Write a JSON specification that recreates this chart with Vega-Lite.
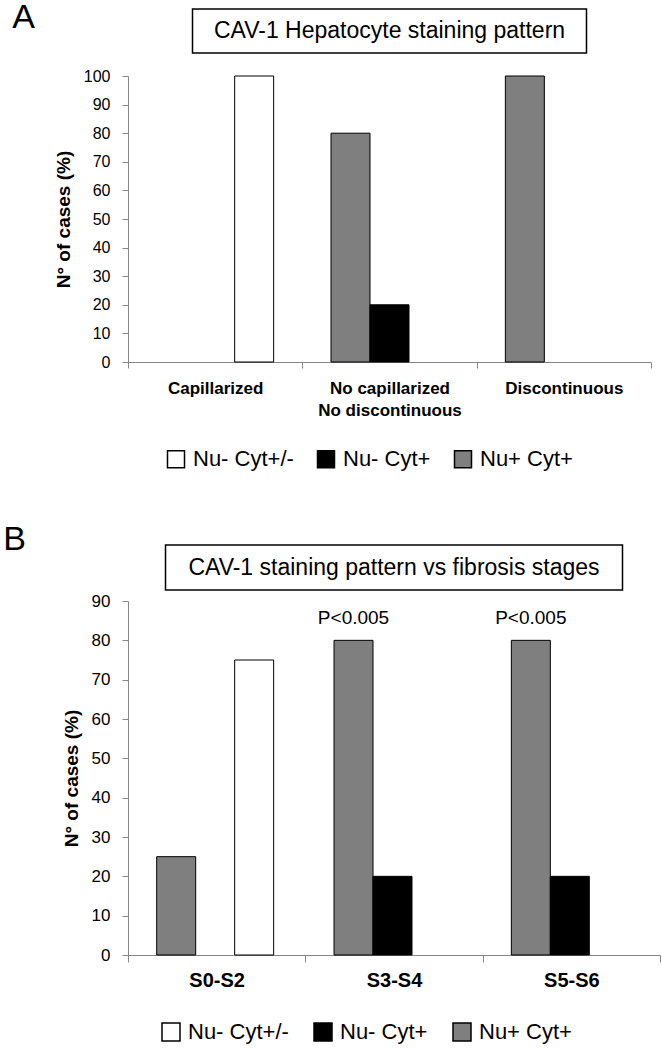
{
  "$schema": "https://vega.github.io/schema/vega-lite/v6.json",
  "padding": {"left": 2, "top": 0, "right": 0, "bottom": 0},
  "background": "white",
  "config": {
    "font": "Liberation Sans",
    "view": {"stroke": null},
    "axis": {"grid": false, "domainColor": "#868686", "tickColor": "#868686", "labelColor": "black", "titleColor": "black", "labelFont": "Liberation Sans", "titleFont": "Liberation Sans"},
    "title": {"font": "Liberation Sans", "color": "black"}
  },
  "datasets": {
    "hep": [
      {"pattern": "Capillarized", "staining": "Nu- Cyt+/-", "pct": 100},
      {"pattern": "No capillarized\nNo discontinuous", "staining": "Nu+ Cyt+", "pct": 80},
      {"pattern": "No capillarized\nNo discontinuous", "staining": "Nu- Cyt+", "pct": 20},
      {"pattern": "Discontinuous", "staining": "Nu+ Cyt+", "pct": 100}
    ],
    "fib": [
      {"stage": "S0-S2", "staining": "Nu+ Cyt+", "pct": 25},
      {"stage": "S0-S2", "staining": "Nu- Cyt+/-", "pct": 75},
      {"stage": "S3-S4", "staining": "Nu+ Cyt+", "pct": 80, "note": "P<0.005"},
      {"stage": "S3-S4", "staining": "Nu- Cyt+", "pct": 20},
      {"stage": "S5-S6", "staining": "Nu+ Cyt+", "pct": 80, "note": "P<0.005"},
      {"stage": "S5-S6", "staining": "Nu- Cyt+", "pct": 20}
    ]
  },
  "resolve": {"scale": {"color": "independent"}, "legend": {"color": "independent"}},
  "spacing": 51,
  "vconcat": [
    {
      "bounds": "flush",
      "center": true,
      "spacing": 23,
      "resolve": {"scale": {"color": "independent"}, "legend": {"color": "independent"}},
      "vconcat": [
        {
          "width": 394,
          "height": 44,
          "view": {"stroke": "black", "strokeWidth": 1.5, "fill": "white"},
          "title": {"text": "A", "orient": "left", "anchor": "end", "angle": 0, "align": "right", "baseline": "middle", "fontSize": 34, "fontWeight": "normal", "offset": 135, "dy": 9},
          "data": {"values": [{"caption": "CAV-1 Hepatocyte staining pattern"}]},
          "mark": {"type": "text", "fontSize": 23, "font": "Liberation Sans", "color": "black"},
          "encoding": {"text": {"field": "caption"}}
        },
        {
          "width": 523,
          "height": 286,
          "data": {"name": "hep"},
          "mark": {"type": "bar", "stroke": "black", "strokeWidth": 1},
          "encoding": {
            "x": {
              "field": "pattern", "type": "nominal",
              "sort": ["Capillarized", "No capillarized\nNo discontinuous", "Discontinuous"],
              "scale": {"paddingInner": 0, "paddingOuter": 0},
              "axis": {"title": null, "labelAngle": 0, "labelFontSize": 17, "labelFontWeight": "bold", "tickBand": "extent", "tickSize": 6, "labelPadding": 20, "labelBaseline": "middle", "labelExpr": "split(datum.label, '\\n')", "labelLineHeight": 22}
            },
            "xOffset": {"field": "staining", "type": "nominal", "scale": {"domain": ["Nu+ Cyt+", "Nu- Cyt+", "Nu- Cyt+/-"], "paddingInner": 0, "paddingOuter": 0.736}},
            "y": {
              "field": "pct", "type": "quantitative",
              "scale": {"domain": [0, 100]},
              "axis": {"title": "N° of cases (%)", "values": [0, 10, 20, 30, 40, 50, 60, 70, 80, 90, 100], "tickSize": 6, "labelPadding": 12, "labelFontSize": 16, "titleFontSize": 19, "titleFontWeight": "bold", "titlePadding": 10}
            },
            "color": {
              "field": "staining", "type": "nominal",
              "scale": {"domain": ["Nu- Cyt+/-", "Nu- Cyt+", "Nu+ Cyt+"], "range": ["#ffffff", "#000000", "#7f7f7f"]},
              "legend": {"title": null, "orient": "none", "legendX": 37, "legendY": 372, "direction": "horizontal", "symbolType": "square", "symbolSize": 289, "symbolStrokeColor": "black", "symbolStrokeWidth": 1.5, "symbolOpacity": 1, "labelFontSize": 22, "labelFont": "Liberation Sans", "labelColor": "black", "labelOffset": 6, "columnPadding": 20}
            }
          }
        }
      ]
    },
    {
      "bounds": "flush",
      "center": true,
      "spacing": 11,
      "resolve": {"scale": {"color": "independent"}, "legend": {"color": "independent"}},
      "vconcat": [
        {
          "width": 457,
          "height": 45,
          "view": {"stroke": "black", "strokeWidth": 1.5, "fill": "white"},
          "title": {"text": "B", "orient": "left", "anchor": "end", "angle": 0, "align": "right", "baseline": "middle", "fontSize": 34, "fontWeight": "normal", "offset": 117, "dy": -5},
          "data": {"values": [{"caption": "CAV-1 staining pattern vs fibrosis stages"}]},
          "mark": {"type": "text", "fontSize": 23, "font": "Liberation Sans", "color": "black"},
          "encoding": {"text": {"field": "caption"}}
        },
        {
          "width": 532,
          "height": 354,
          "data": {"name": "fib"},
          "encoding": {
            "x": {
              "field": "stage", "type": "nominal",
              "sort": ["S0-S2", "S3-S4", "S5-S6"],
              "scale": {"paddingInner": 0, "paddingOuter": 0},
              "axis": {"title": null, "labelAngle": 0, "labelFontSize": 20, "labelFontWeight": "bold", "tickBand": "extent", "tickSize": 7, "labelPadding": 18, "labelBaseline": "middle"}
            },
            "xOffset": {"field": "staining", "type": "nominal", "scale": {"domain": ["Nu+ Cyt+", "Nu- Cyt+", "Nu- Cyt+/-"], "paddingInner": 0, "paddingOuter": 0.72}},
            "y": {
              "field": "pct", "type": "quantitative",
              "scale": {"domain": [0, 90]},
              "axis": {"title": "N° of cases (%)", "values": [0, 10, 20, 30, 40, 50, 60, 70, 80, 90], "tickSize": 6, "labelPadding": 12, "labelFontSize": 17, "titleFontSize": 19, "titleFontWeight": "bold", "titlePadding": 10}
            }
          },
          "layer": [
            {
              "mark": {"type": "bar", "stroke": "black", "strokeWidth": 1},
              "encoding": {
                "color": {
                  "field": "staining", "type": "nominal",
                  "scale": {"domain": ["Nu- Cyt+/-", "Nu- Cyt+", "Nu+ Cyt+"], "range": ["#ffffff", "#000000", "#7f7f7f"]},
                  "legend": {"title": null, "orient": "none", "legendX": 32, "legendY": 420, "direction": "horizontal", "symbolType": "square", "symbolSize": 324, "symbolStrokeColor": "black", "symbolStrokeWidth": 1.5, "symbolOpacity": 1, "labelFontSize": 22, "labelFont": "Liberation Sans", "labelColor": "black", "labelOffset": 6, "columnPadding": 22}
                }
              }
            },
            {
              "transform": [{"filter": "datum.note"}],
              "mark": {"type": "text", "baseline": "bottom", "dy": -12, "fontSize": 19, "font": "Liberation Sans", "color": "black"},
              "encoding": {"text": {"field": "note"}}
            }
          ]
        }
      ]
    }
  ]
}
